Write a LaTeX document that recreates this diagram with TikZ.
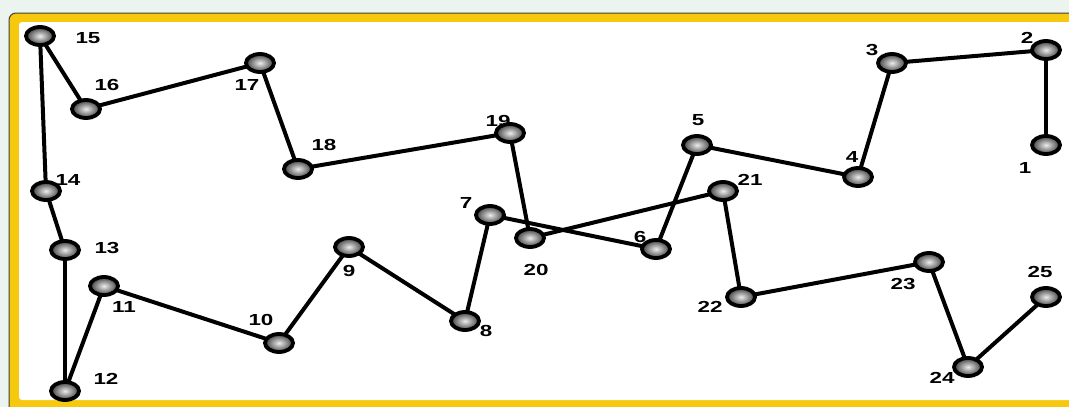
\documentclass[tikz,border=0pt]{standalone}
\usepackage{fontspec}
\setmainfont{Liberation Sans}
\usetikzlibrary{shapes.geometric}
\definecolor{giallo}{HTML}{F6C90E}
\definecolor{sfondo}{HTML}{ECF4EF}

\begin{document}
\begin{tikzpicture}[x=1pt, y=-1pt,
    punto/.style={ellipse, draw=black, line width=3.8pt, minimum width=28pt, minimum height=18pt, inner sep=0pt, shading=radial, inner color=white!85!gray, outer color=black!75},
    linea/.style={line width=4pt, line cap=round},
    etichetta/.style={font=\fontsize{16}{16}\selectfont\bfseries, xscale=1.4, inner sep=0pt}]
    % Cornice
    \useasboundingbox (0,0) rectangle (1069,407);
    \fill[sfondo] (0,0) rectangle (1069,407);
    \draw[fill=giallo, draw=black!75, line width=1pt, rounded corners=7pt] (9,13) rectangle (1090,416);
    \fill[white, rounded corners=3pt] (19,22) rectangle (1080,400);

    % Punti che mi servono
    \foreach \n/\x/\y in {1/1046/145, 2/1046/50, 3/892/63, 4/858/177, 5/697/145,
        6/656/249, 7/490/215, 8/465/321, 9/349/247, 10/279/343, 11/104/286,
        12/65/391, 13/65/250, 14/46/191, 15/40/36, 16/86/109, 17/260/63,
        18/298/169, 19/510/133, 20/530/238, 21/723/191, 22/741/297,
        23/929/262, 24/968/367, 25/1046/297}
        \coordinate (p\n) at (\x,\y);

    % Linee
    \foreach \n [evaluate=\n as \m using int(\n+1)] in {1,...,24}
        \draw[linea] (p\n) -- (p\m);

    % Pallini
    \foreach \n in {1,...,25}
        \node[punto] (q\n) at (p\n) {};

    % Numeri
    \foreach \n/\x/\y in {1/1025/168, 2/1027/38, 3/872/50, 4/852/157, 5/698/120,
        6/640/237, 7/466/203, 8/486/331, 9/349/271, 10/261/320, 11/124/307,
        12/106/379, 13/107/248, 14/68/180, 15/88/38, 16/107/85, 17/247/85,
        18/324/145, 19/498/121, 20/536/270, 21/750/180, 22/710/307,
        23/903/284, 24/942/378, 25/1040/272}
        \node[etichetta] (e\n) at (\x,\y) {\n};
\end{tikzpicture}
\end{document}
